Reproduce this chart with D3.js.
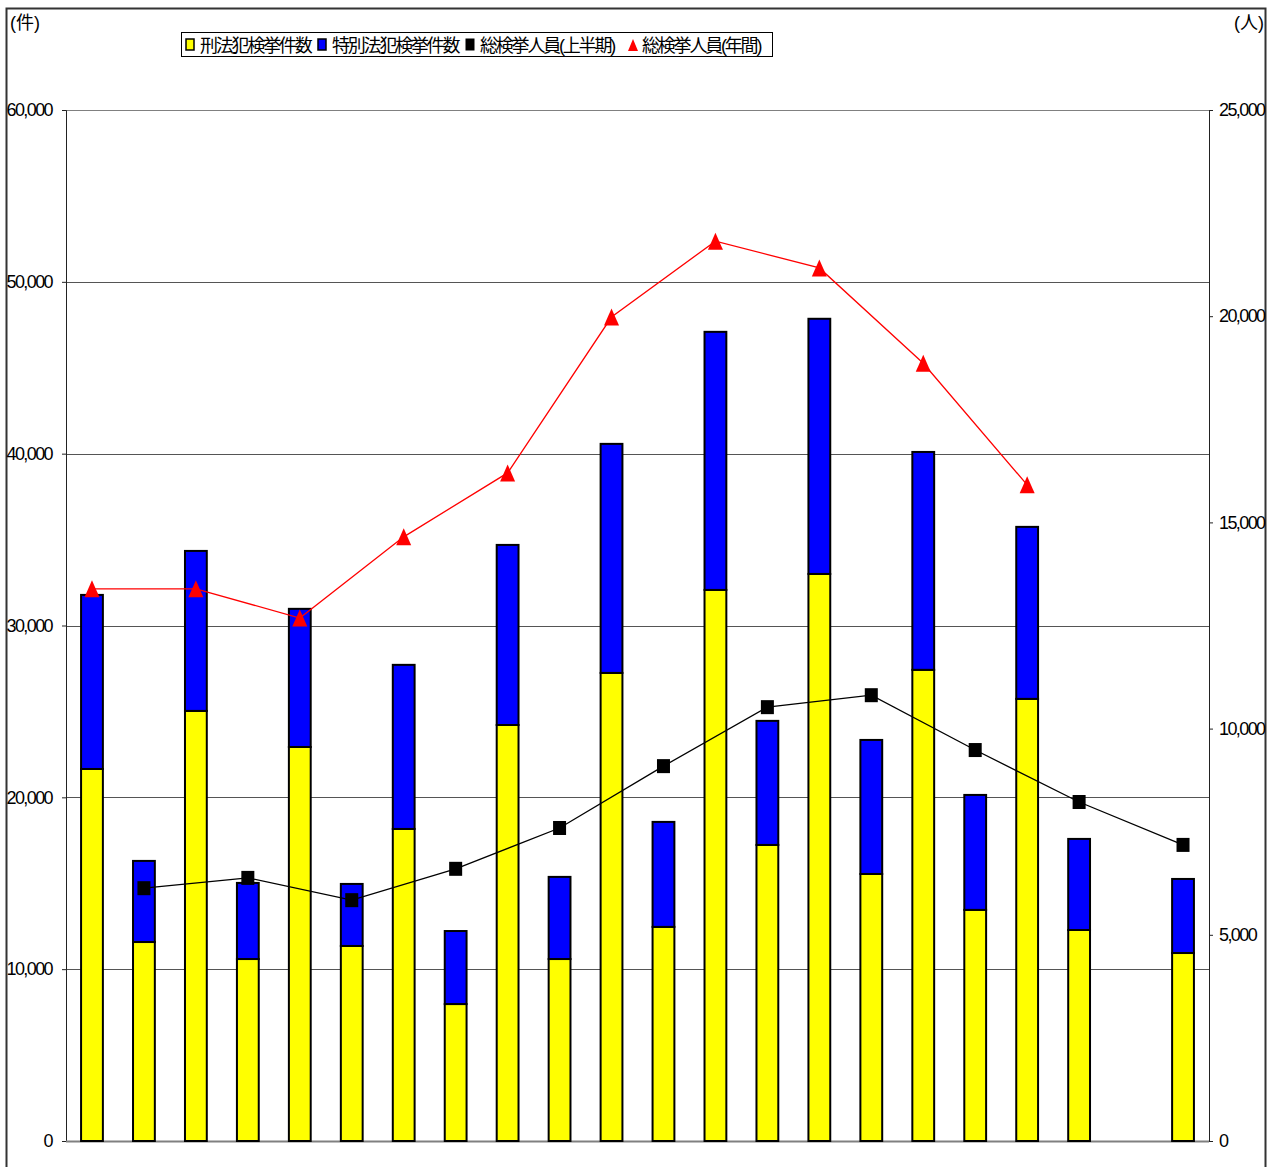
<!DOCTYPE html>
<html>
<head>
<meta charset="utf-8">
<script src="https://cdn.jsdelivr.net/npm/d3@7"></script>
<style>
  body { margin: 0; background: #fff; }
  svg text { font-family: "Liberation Sans", "Noto Sans CJK JP", sans-serif; fill: #000; }
</style>
</head>
<body>
<svg width="1280" height="1167"></svg>
<script>
// 年間 / 上半期 alternate; slot 21 (年間) not yet available
const periods = ['年1','上2','年2','上3','年3','上4','年4','上5','年5','上6','年6','上7','年7','上8','年8','上9','年9','上10','年10','上11','年11','上12'];
const keihou = [21650, 11580, 25030, 10590, 22930, 11350, 18160, 7970, 24210, 10590, 27240, 12460, 32070, 17230, 33000, 15540, 27420, 13450, 25730, 12280, null, 10940];
const tokubetsu = [10130, 4720, 9310, 4430, 8040, 3610, 9550, 4250, 10480, 4780, 13330, 6110, 15020, 7220, 14850, 7800, 12680, 6690, 10010, 5300, null, 4310];
const personsHalf = [null, 6130, null, 6380, null, 5840, null, 6600, null, 7590, null, 9090, null, 10520, null, 10810, null, 9480, null, 8220, null, 7180];
const personsYear = [13390, null, 13390, null, 12680, null, 14650, null, 16200, null, 19980, null, 21820, null, 21170, null, 18860, null, 15910, null, null, null];
const leftTicks = [0, 10000, 20000, 30000, 40000, 50000, 60000];
const rightTicks = [0, 5000, 10000, 15000, 20000, 25000];

const svg = d3.select('svg');
const plotL = 66, plotR = 1209, plotT = 110, plotB = 1141;

const x = d3.scaleBand().domain(periods).range([plotL, plotR]).paddingInner(0.58).paddingOuter(0.29);
const yL = d3.scaleLinear().domain([0, 60000]).range([plotB, plotT]);
const yR = d3.scaleLinear().domain([0, 25000]).range([plotB, plotT]);
const fmt = d3.format(',');

// outer frame
svg.append('rect')
    .attr('x', 6.5).attr('y', 8.5).attr('width', 1259).attr('height', 1175)
    .attr('fill', 'none').attr('stroke', '#333').attr('stroke-width', 2);

// gridlines
svg.append('g').selectAll('line').data(leftTicks.filter(d => d > 0))
    .join('line')
    .attr('x1', plotL).attr('x2', plotR)
    .attr('y1', d => Math.round(yL(d)) + 0.5).attr('y2', d => Math.round(yL(d)) + 0.5)
    .attr('stroke', d => d === 60000 ? '#808080' : '#555').attr('stroke-width', 1);

// axes
const axL = svg.append('g').attr('transform', `translate(${plotL},0)`)
    .call(d3.axisLeft(yL).tickValues(leftTicks).tickFormat(fmt).tickSize(4).tickPadding(10));
const axR = svg.append('g').attr('transform', `translate(${plotR},0)`)
    .call(d3.axisRight(yR).tickValues(rightTicks).tickFormat(fmt).tickSize(4).tickPadding(6));
[axL, axR].forEach(a => {
  a.select('.domain').attr('stroke', '#222');
  a.selectAll('.tick line').attr('stroke', '#222');
  a.selectAll('text').attr('font-size', 18).attr('letter-spacing', -1.6).attr('fill', '#000');
});
// baseline
svg.append('line').attr('x1', plotL).attr('x2', plotR).attr('y1', plotB + 0.5).attr('y2', plotB + 0.5)
    .attr('stroke', '#808080').attr('stroke-width', 2);

// stacked bars
const stackData = periods.map((p, i) => ({p, k: keihou[i], t: tokubetsu[i]})).filter(d => d.k != null);
const bars = svg.append('g');
bars.selectAll('rect.k').data(stackData).join('rect')
    .attr('class', 'k')
    .attr('x', d => x(d.p)).attr('width', x.bandwidth())
    .attr('y', d => yL(d.k)).attr('height', d => yL(0) - yL(d.k))
    .attr('fill', '#ffff00').attr('stroke', '#000').attr('stroke-width', 2);
bars.selectAll('rect.t').data(stackData).join('rect')
    .attr('class', 't')
    .attr('x', d => x(d.p)).attr('width', x.bandwidth())
    .attr('y', d => yL(d.k + d.t)).attr('height', d => yL(d.k) - yL(d.k + d.t))
    .attr('fill', '#0000ff').attr('stroke', '#000').attr('stroke-width', 2);

const cx = p => x(p) + x.bandwidth() / 2;

// 上半期 line
const half = periods.map((p, i) => ({p, v: personsHalf[i]})).filter(d => d.v != null);
const line = d3.line().x(d => cx(d.p)).y(d => yR(d.v));
svg.append('path').datum(half).attr('d', line)
    .attr('fill', 'none').attr('stroke', '#000').attr('stroke-width', 1.3);
svg.append('g').selectAll('rect').data(half).join('rect')
    .attr('x', d => cx(d.p) - 6.5).attr('y', d => yR(d.v) - 7)
    .attr('width', 13).attr('height', 14).attr('fill', '#000');

// 年間 line
const year = periods.map((p, i) => ({p, v: personsYear[i]})).filter(d => d.v != null);
svg.append('path').datum(year).attr('d', line)
    .attr('fill', 'none').attr('stroke', '#ff0000').attr('stroke-width', 1.3);
const triPath = 'M0,-8.5L7.5,8.5L-7.5,8.5Z';
svg.append('g').selectAll('path').data(year).join('path')
    .attr('d', triPath)
    .attr('transform', d => `translate(${cx(d.p)},${yR(d.v)})`)
    .attr('fill', '#ff0000');

// unit labels
svg.append('text').attr('x', 10).attr('y', 29).attr('font-size', 18).text('(件)');
svg.append('text').attr('x', 1264).attr('y', 29).attr('font-size', 18).attr('text-anchor', 'end').text('(人)');

// legend
const lg = svg.append('g');
lg.append('rect').attr('x', 181.5).attr('y', 32.5).attr('width', 591).attr('height', 24)
    .attr('fill', '#fff').attr('stroke', '#000').attr('stroke-width', 1);
const legendItems = [
  {name: '刑法犯検挙件数', x: 186, kind: 'box', color: '#ffff00'},
  {name: '特別法犯検挙件数', x: 318, kind: 'box', color: '#0000ff'},
  {name: '総検挙人員(上半期)', x: 466, kind: 'sq', color: '#000'},
  {name: '総検挙人員(年間)', x: 628, kind: 'tri', color: '#ff0000'}
];
legendItems.forEach(d => {
  if (d.kind === 'box') {
    lg.append('rect').attr('x', d.x).attr('y', 39).attr('width', 8).attr('height', 11)
      .attr('fill', d.color).attr('stroke', '#000').attr('stroke-width', 1.5);
  } else if (d.kind === 'sq') {
    lg.append('rect').attr('x', d.x - 0.5).attr('y', 38.5).attr('width', 9).attr('height', 12).attr('fill', d.color);
  } else {
    lg.append('path').attr('d', 'M0,-6L5,6L-5,6Z')
      .attr('transform', `translate(${d.x + 5},${45})`).attr('fill', d.color);
  }
  lg.append('text').attr('x', d.x + 14).attr('y', 52).attr('font-size', 18)
    .attr('font-family', '"Noto Sans CJK JP", sans-serif').attr('letter-spacing', -2.2)
    .text(d.name);
});
</script>
</body>
</html>
